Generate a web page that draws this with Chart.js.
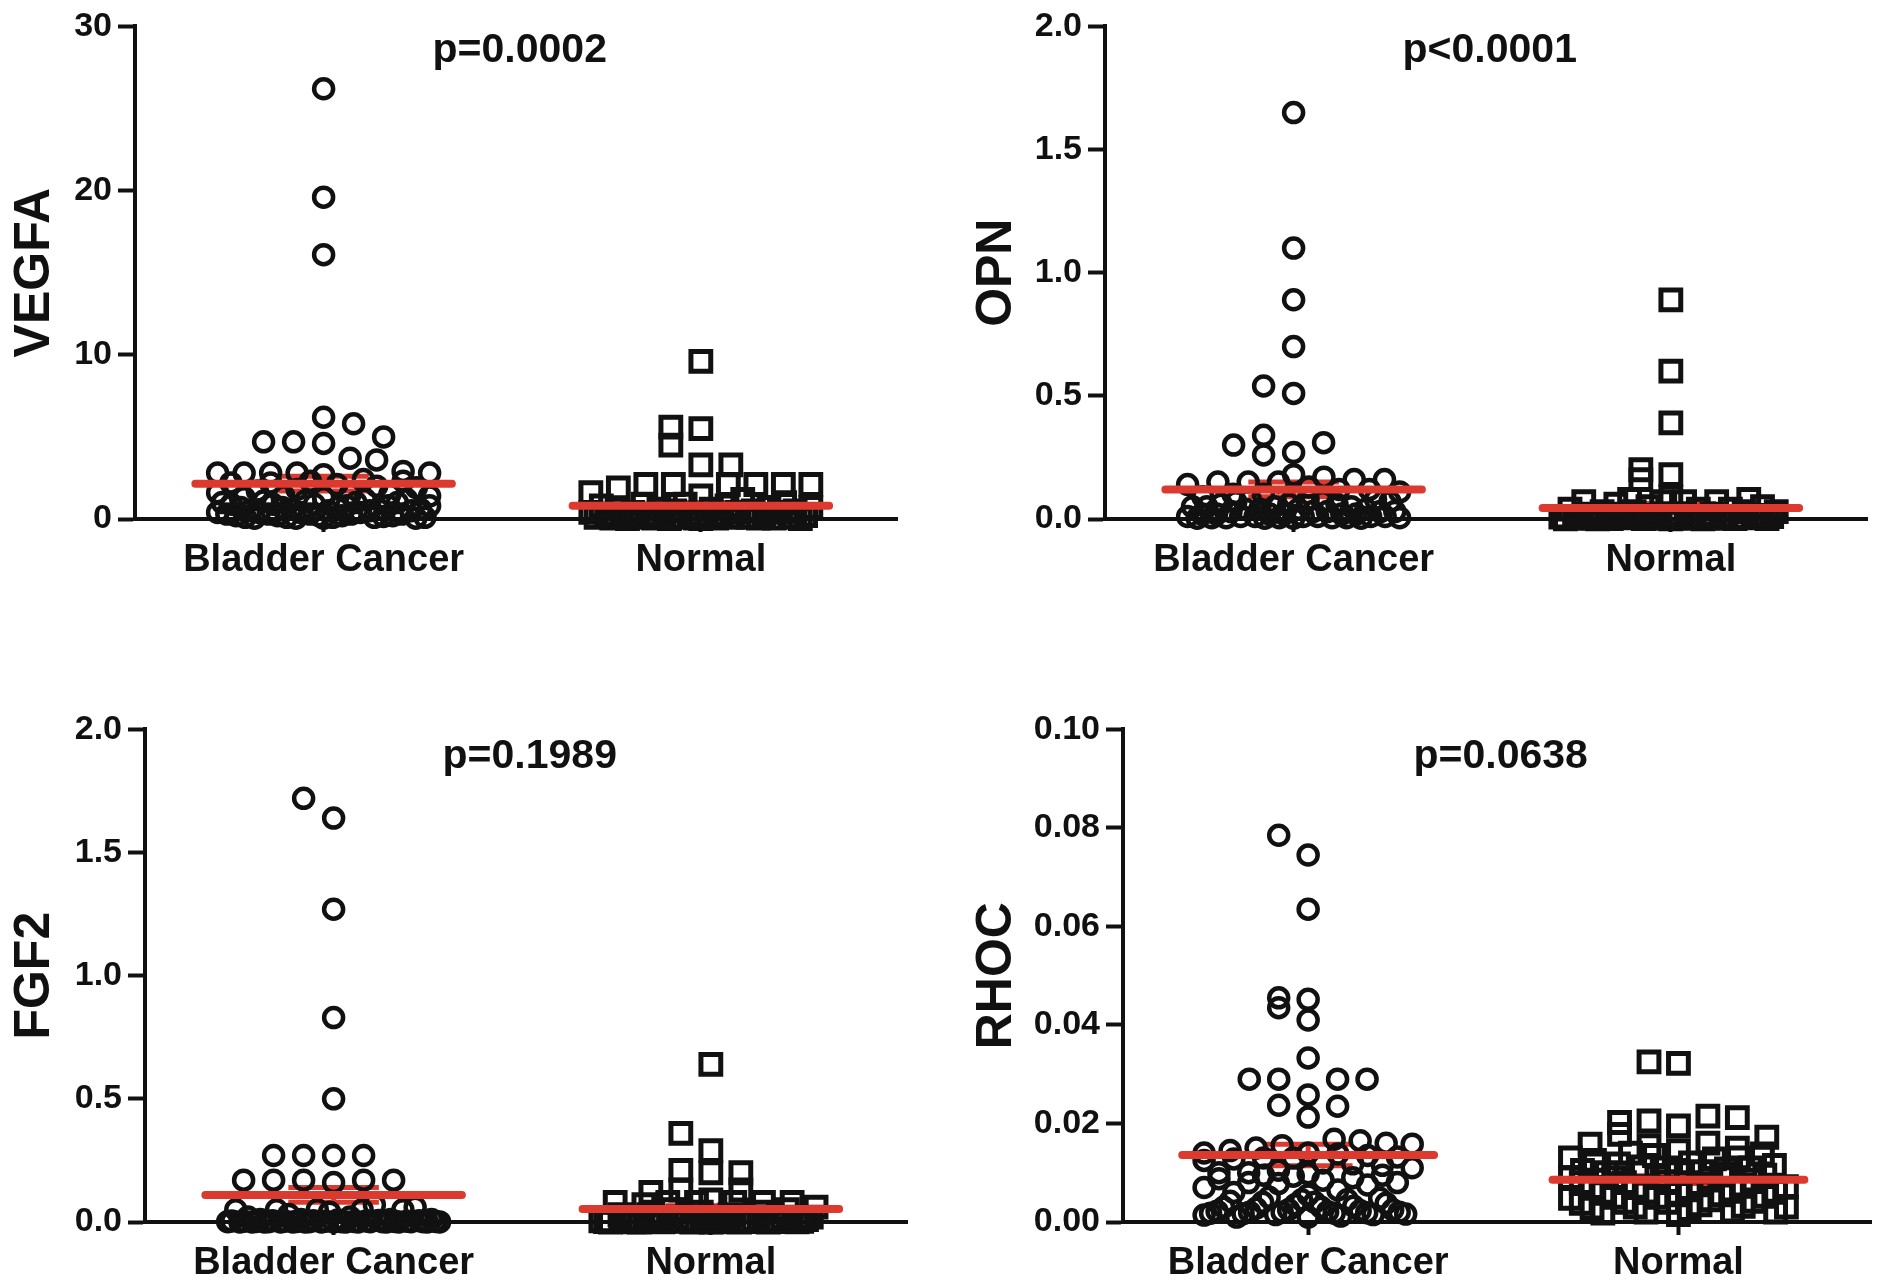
<!DOCTYPE html>
<html>
<head>
<meta charset="utf-8">
<script src="https://cdn.jsdelivr.net/npm/chart.js@4.4.1/dist/chart.umd.min.js"></script>
<style>
  html, body { margin: 0; padding: 0; background: #fff; }
  body { width: 1890px; height: 1281px; position: relative; overflow: hidden; }
  canvas { position: absolute; }
</style>
</head>
<body>
<canvas id="vegfa" width="945" height="640" style="left:0;top:0"></canvas>
<canvas id="opn" width="945" height="640" style="left:945px;top:0"></canvas>
<canvas id="fgf2" width="945" height="578" style="left:0;top:703px"></canvas>
<canvas id="rhoc" width="945" height="578" style="left:945px;top:703px"></canvas>
<script>
const groupLabels = ["Bladder Cancer", "Normal"];

// VEGFA
const vegfaCancer = [26.2, 19.6, 16.1, 6.2, 5.8, 5.0, 4.7, 4.7, 4.6, 3.7, 3.6, 2.9, 2.8, 2.8, 2.8, 2.8, 2.8, 2.7,
  2.4, 2.3, 2.3, 2.2, 2.2, 2.1, 2.0, 1.9, 1.8, 1.7, 1.6, 1.5, 1.5, 1.4, 1.4, 1.3, 1.3, 1.2, 1.2, 1.1, 1.1,
  1.0, 1.0, 1.0, 0.9, 0.9, 0.9, 0.8, 0.8, 0.8, 0.7, 0.7, 0.7, 0.6, 0.6, 0.6, 0.5, 0.5, 0.5, 0.5, 0.4, 0.4,
  0.4, 0.4, 0.3, 0.3, 0.3, 0.3, 0.3, 0.2, 0.2, 0.2, 0.2, 0.2, 0.15, 0.1, 0.1, 0.1, 0.1, 0.1, 0.05, 0.05,
  0.05, 0.05];
const vegfaNormal = [9.6, 5.6, 5.5, 4.5, 3.3, 3.3, 2.1, 2.1, 2.1, 2.1, 2.1, 2.1, 1.9, 1.6, 1.4, 1.2, 1.0, 0.9,
  0.9, 0.8, 0.8, 0.7, 0.7, 0.6, 0.6, 0.6, 0.5, 0.5, 0.5, 0.4, 0.4, 0.4, 0.4, 0.3, 0.3, 0.3, 0.3, 0.2, 0.2,
  0.2, 0.2, 0.2, 0.1, 0.1, 0.1, 0.1, 0.1, 0.1, 0.05, 0.05, 0.05, 0.05, 0.05, 0.05, 0.02, 0.02, 0.02, 0.02];
const vegfaMean = [2.15, 0.8];
const vegfaSem = [0.45, 0.2];
const vegfaTicks = [0, 10, 20, 30];

// OPN
const opnCancer = [1.65, 1.10, 0.89, 0.70, 0.54, 0.51, 0.34, 0.31, 0.30, 0.27, 0.26, 0.18, 0.17, 0.16, 0.16,
  0.15, 0.15, 0.15, 0.14, 0.13, 0.12, 0.12, 0.11, 0.10, 0.10, 0.09, 0.09, 0.08, 0.08, 0.08, 0.07, 0.07, 0.07,
  0.06, 0.06, 0.06, 0.05, 0.05, 0.05, 0.05, 0.04, 0.04, 0.04, 0.04, 0.03, 0.03, 0.03, 0.03, 0.03, 0.02, 0.02,
  0.02, 0.02, 0.02, 0.02, 0.01, 0.01, 0.01, 0.01, 0.01, 0.01, 0.01, 0.005, 0.005, 0.005, 0.005, 0.005, 0.005,
  0.003, 0.003, 0.003, 0.003];
const opnNormal = [0.89, 0.60, 0.39, 0.20, 0.18, 0.16, 0.09, 0.08, 0.08, 0.07, 0.07, 0.07, 0.07, 0.06, 0.05,
  0.05, 0.04, 0.04, 0.04, 0.03, 0.03, 0.03, 0.03, 0.02, 0.02, 0.02, 0.02, 0.02, 0.015, 0.015, 0.01, 0.01,
  0.01, 0.01, 0.01, 0.01, 0.008, 0.008, 0.005, 0.005, 0.005, 0.005, 0.005, 0.003, 0.003, 0.003, 0.003,
  0.002, 0.002, 0.002, 0.002, 0.001, 0.001, 0.001, 0.001];
const opnMean = [0.12, 0.045];
const opnSem = [0.03, 0.018];
const opnTicks = [0, 0.5, 1.0, 1.5, 2.0];

// FGF2
const fgf2Cancer = [1.72, 1.64, 1.27, 0.83, 0.50, 0.27, 0.27, 0.27, 0.27, 0.17, 0.17, 0.17, 0.16, 0.17, 0.17,
  0.07, 0.06, 0.05, 0.05, 0.05, 0.05, 0.05, 0.04, 0.03, 0.02, 0.02, 0.01, 0.01, 0.01, 0.01, 0.008, 0.006,
  0.005, 0.005, 0.005, 0.004, 0.004, 0.003, 0.003, 0.003, 0.003, 0.002, 0.002, 0.002, 0.002, 0.002, 0.001,
  0.001, 0.001, 0.001, 0.001, 0.001, 0.001, 0.001, 0.0005, 0.0005, 0.0005, 0.0005, 0.0005, 0.0005,
  0, 0, 0, 0, 0, 0, 0, 0];
const fgf2Normal = [0.64, 0.36, 0.29, 0.21, 0.20, 0.20, 0.13, 0.13, 0.12, 0.09, 0.08, 0.08, 0.08, 0.08, 0.08,
  0.08, 0.07, 0.06, 0.05, 0.05, 0.04, 0.04, 0.03, 0.03, 0.03, 0.02, 0.02, 0.02, 0.02, 0.01, 0.01, 0.01, 0.01,
  0.01, 0.005, 0.005, 0.005, 0.005, 0.005, 0.003, 0.003, 0.003, 0.003, 0.002, 0.002, 0.002, 0.001, 0.001,
  0.001, 0.001, 0, 0, 0, 0, 0, 0];
const fgf2Mean = [0.11, 0.053];
const fgf2Sem = [0.03, 0.013];
const fgf2Ticks = [0, 0.5, 1.0, 1.5, 2.0];

// RHOC
const rhocCancer = [0.0785, 0.0745, 0.0635, 0.0455, 0.0452, 0.0435, 0.041, 0.0333, 0.029, 0.029, 0.029, 0.029,
  0.0258, 0.0237, 0.0235, 0.0213, 0.0168, 0.0165, 0.016, 0.0158, 0.0155, 0.015, 0.0145, 0.014, 0.014, 0.0138,
  0.0135, 0.0132, 0.013, 0.013, 0.0128, 0.0125, 0.012, 0.0118, 0.0115, 0.011, 0.0105, 0.01, 0.01, 0.0098,
  0.0095, 0.0095, 0.0093, 0.009, 0.0088, 0.0085, 0.008, 0.008, 0.0078, 0.0075, 0.007, 0.0065, 0.006, 0.0055,
  0.005, 0.0048, 0.0045, 0.0045, 0.0042, 0.004, 0.004, 0.0038, 0.0035, 0.0032, 0.003, 0.003, 0.0028, 0.0025,
  0.0025, 0.0023, 0.0022, 0.0021, 0.002, 0.002, 0.002, 0.0019, 0.0018, 0.0018, 0.0017, 0.0016, 0.0015,
  0.0015, 0.0014, 0.0012, 0.001, 0.001];
const rhocNormal = [0.0325, 0.0322, 0.0212, 0.0205, 0.0202, 0.0215, 0.0195, 0.0178, 0.0172, 0.0158, 0.016,
  0.0155, 0.015, 0.0145, 0.014, 0.0138, 0.0135, 0.013, 0.013, 0.0128, 0.0125, 0.012, 0.0118, 0.0115, 0.0112,
  0.011, 0.011, 0.0108, 0.0105, 0.0102, 0.01, 0.01, 0.0098, 0.0095, 0.0092, 0.009, 0.009, 0.0088, 0.0085,
  0.0082, 0.008, 0.008, 0.0078, 0.0075, 0.0072, 0.007, 0.007, 0.0068, 0.0065, 0.0062, 0.006, 0.006, 0.0058,
  0.0055, 0.0052, 0.005, 0.005, 0.0048, 0.0045, 0.0042, 0.004, 0.004, 0.0038, 0.0035, 0.0032, 0.003, 0.003,
  0.0028, 0.0025, 0.0022, 0.002, 0.002, 0.0018, 0.0015];
const rhocMean = [0.0136, 0.0086];
const rhocSem = [0.0022, 0.0008];
const rhocTicks = [0, 0.02, 0.04, 0.06, 0.08, 0.10];

const pValues = ["p=0.0002", "p<0.0001", "p=0.1989", "p=0.0638"];

const FONT = '"Liberation Sans", Arial, Helvetica, sans-serif';
const INK = "#111111";
const RED = "#dd3a2f";
const PLOT_H = 499;
const X_MIN = 0.5;
const X_MAX = 2.52;
const PX_PER_UNIT = 762 / (X_MAX - X_MIN);

function gcd(a, b) {
  return b ? gcd(b, a % b) : a;
}

// Column-scatter layout: values close in height share a row, spread around the column centre.
// Within a row the slots are handed out with a coprime stride so low and high values mix.
function swarm(values, center, yMax, maxHalf) {
  const step = 30;
  const rowH = 20;
  const sorted = values.slice().sort((a, b) => a - b);
  const rows = [];
  let row = null;
  for (const v of sorted) {
    const py = (v / yMax) * PLOT_H;
    if (!row || py - row.start > rowH) {
      row = { start: py, vals: [] };
      rows.push(row);
    }
    row.vals.push(v);
  }
  const points = [];
  for (const r of rows) {
    const n = r.vals.length;
    let stride = Math.max(1, Math.round(n * 0.618));
    while (gcd(stride, n) !== 1) stride++;
    const reach = Math.ceil((n - 1) / 2);
    const s = reach ? Math.min(step, maxHalf / reach) : step;
    r.vals.forEach((v, j) => {
      const i = (j * stride) % n;
      const k = i === 0 ? 0 : i % 2 ? -Math.ceil(i / 2) : i / 2;
      points.push({ x: center + (k * s) / PX_PER_UNIT, y: v });
    });
  }
  return points;
}

function meanLines(means, sems) {
  const half = 0.34;
  const cap = 0.12;
  const meanData = [];
  const semData = [];
  means.forEach((m, i) => {
    const c = i + 1;
    const s = sems[i];
    meanData.push({ x: c - half, y: m }, { x: c + half, y: m }, { x: c, y: null });
    semData.push(
      { x: c, y: m - s }, { x: c, y: m + s }, { x: c, y: null },
      { x: c - cap, y: m + s }, { x: c + cap, y: m + s }, { x: c, y: null },
      { x: c - cap, y: m - s }, { x: c + cap, y: m - s }, { x: c, y: null }
    );
  });
  return { meanData, semData };
}

const pValuePlugin = {
  id: "pValue",
  afterDraw(chart, _args, options) {
    const { ctx, chartArea, scales } = chart;
    ctx.save();
    ctx.font = `bold 41px ${FONT}`;
    ctx.fillStyle = INK;
    ctx.textAlign = "center";
    ctx.textBaseline = "middle";
    ctx.fillText(options.text, scales.x.getPixelForValue(options.x), chartArea.top + options.dy);
    ctx.restore();
  },
};

const panels = [
  { id: "vegfa", title: "VEGFA", cancer: vegfaCancer, normal: vegfaNormal, mean: vegfaMean, sem: vegfaSem,
    ticks: vegfaTicks, decimals: 0, p: pValues[0], axisOffset: 135, titlePad: 10, xHeight: 121, pDy: 24 },
  { id: "opn", title: "OPN", cancer: opnCancer, normal: opnNormal, mean: opnMean, sem: opnSem,
    ticks: opnTicks, decimals: 1, p: pValues[1], axisOffset: 160, titlePad: 27, xHeight: 121, pDy: 24 },
  { id: "fgf2", title: "FGF2", cancer: fgf2Cancer, normal: fgf2Normal, mean: fgf2Mean, sem: fgf2Sem,
    ticks: fgf2Ticks, decimals: 1, p: pValues[2], axisOffset: 145, titlePad: 10, xHeight: 59, pDy: 27 },
  { id: "rhoc", title: "RHOC", cancer: rhocCancer, normal: rhocNormal, mean: rhocMean, sem: rhocSem,
    ticks: rhocTicks, decimals: 2, p: pValues[3], axisOffset: 178, titlePad: 27, xHeight: 59, pDy: 27 },
];

function renderPanel(panel) {
  const yMax = panel.ticks[panel.ticks.length - 1];
  const { meanData, semData } = meanLines(panel.mean, panel.sem);
  const canvas = document.getElementById(panel.id);

  // first dataset is painted last: mean bar on top, SEM whiskers under the symbols
  new Chart(canvas, {
    type: "line",
    data: {
      datasets: [
        {
          data: meanData,
          borderColor: RED,
          borderWidth: 8,
          borderCapStyle: "round",
          pointRadius: 0,
          fill: false,
          tension: 0,
        },
        {
          data: swarm(panel.cancer, 1, yMax, 106),
          showLine: false,
          pointStyle: "circle",
          pointRadius: 9.5,
          pointBorderWidth: 4.5,
          pointBorderColor: INK,
          pointBackgroundColor: "rgba(0,0,0,0)",
          clip: false,
        },
        {
          data: swarm(panel.normal, 2, yMax, 110),
          showLine: false,
          pointStyle: "rect",
          pointRadius: 14,
          pointBorderWidth: 5,
          pointBorderColor: INK,
          pointBackgroundColor: "rgba(0,0,0,0)",
          clip: false,
        },
        {
          data: semData,
          borderColor: RED,
          borderWidth: 5,
          pointRadius: 0,
          fill: false,
          tension: 0,
        },
      ],
    },
    options: {
      responsive: false,
      animation: false,
      devicePixelRatio: 1,
      events: [],
      layout: {
        padding: { left: 0, top: 20, right: 945 - panel.axisOffset - 762, bottom: 0 },
      },
      plugins: {
        legend: { display: false },
        tooltip: { enabled: false },
        pValue: { text: panel.p, x: 1.52, dy: panel.pDy },
      },
      scales: {
        x: {
          type: "linear",
          min: X_MIN,
          max: X_MAX,
          afterBuildTicks(scale) {
            scale.ticks = groupLabels.map((_, i) => ({ value: i + 1 }));
          },
          afterFit(scale) {
            scale.height = panel.xHeight;
          },
          ticks: {
            autoSkip: false,
            maxRotation: 0,
            padding: 6,
            color: INK,
            font: { family: FONT, size: 38, weight: "bold" },
            callback: (_value, index) => groupLabels[index],
          },
          grid: {
            drawOnChartArea: false,
            tickLength: 13,
            tickWidth: 4,
            tickColor: INK,
          },
          border: { color: INK, width: 4 },
        },
        y: {
          min: 0,
          max: yMax,
          afterBuildTicks(scale) {
            scale.ticks = panel.ticks.map((value) => ({ value }));
          },
          afterFit(scale) {
            scale.width = panel.axisOffset;
          },
          ticks: {
            padding: 6,
            color: INK,
            font: { family: FONT, size: 34, weight: "bold" },
            callback: (value) => Number(value).toFixed(panel.decimals),
          },
          grid: {
            drawOnChartArea: false,
            tickLength: 17,
            tickWidth: 4,
            tickColor: INK,
          },
          border: { color: INK, width: 4 },
          title: {
            display: true,
            text: panel.title,
            color: INK,
            font: { family: FONT, size: 50, weight: "bold", lineHeight: 1 },
            padding: { top: panel.titlePad, bottom: 0 },
          },
        },
      },
    },
    plugins: [pValuePlugin],
  });
}

panels.forEach(renderPanel);
</script>
</body>
</html>
